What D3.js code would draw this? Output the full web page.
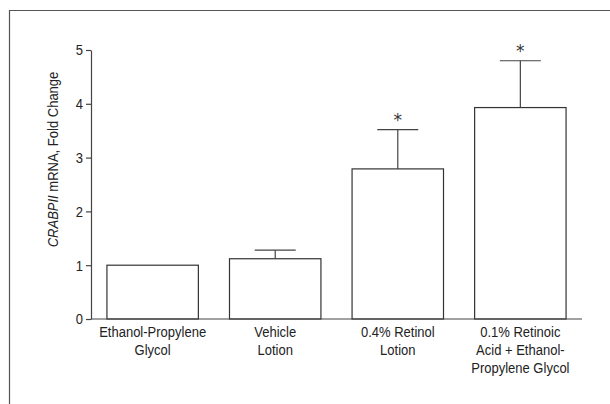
<!DOCTYPE html>
<html lang="en">
<head>
  <meta charset="UTF-8">
  <script src="https://cdnjs.cloudflare.com/ajax/libs/d3/7.8.5/d3.min.js"></script>
  <style>
    body { margin: 0; background: #fff; font-family: 'Liberation Sans', Arial, sans-serif; }
    text { fill: #222; }
  </style>
  <title>CRABPII</title>
</head>
<body>
  <div id="chart"></div>
<script>
  // treatment groups, each label split into lines
  const groups = [
    ["Ethanol-Propylene", "Glycol"],
    ["Vehicle", "Lotion"],
    ["0.4% Retinol", "Lotion"],
    ["0.1% Retinoic", "Acid + Ethanol-", "Propylene Glycol"]
  ];
  const foldChange = [1.0, 1.12, 2.79, 3.93];
  const errorUpper = [null, 1.28, 3.52, 4.80];
  const significant = [false, false, true, true];
  const yTicks = [0, 1, 2, 3, 4, 5];

  const W = 610, H = 404;
  const margin = { top: 50, right: 28, bottom: 85, left: 91 };
  const narrow = 0.84; // fake a condensed face

  const svg = d3.select("#chart").append("svg")
    .attr("width", W).attr("height", H);

  // panel frame (only top and left edges are in view)
  svg.append("path")
    .attr("d", "M9.5," + H + "V10.5H" + W)
    .attr("fill", "none").attr("stroke", "#555").attr("stroke-width", 1.2);

  const ids = groups.map((d, i) => i);
  const x = d3.scaleBand()
    .domain(ids)
    .range([margin.left, W - margin.right])
    .paddingInner(0.254)
    .paddingOuter(0.13);

  const y = d3.scaleLinear()
    .domain([0, 5])
    .range([H - margin.bottom, margin.top]);

  // bars
  svg.append("g").selectAll("rect")
    .data(foldChange)
    .join("rect")
    .attr("x", (d, i) => x(i))
    .attr("y", d => y(d))
    .attr("width", x.bandwidth())
    .attr("height", d => y(0) - y(d))
    .attr("fill", "#fff")
    .attr("stroke", "#333")
    .attr("stroke-width", 1.2);

  // error bars (upper only)
  const eb = svg.append("g").attr("stroke", "#444").attr("stroke-width", 1.2);
  errorUpper.forEach((e, i) => {
    if (e == null) return;
    const cx = x(i) + x.bandwidth() / 2;
    eb.append("line").attr("x1", cx).attr("x2", cx)
      .attr("y1", y(foldChange[i])).attr("y2", y(e));
    eb.append("line").attr("x1", cx - 20.5).attr("x2", cx + 20.5)
      .attr("y1", y(e)).attr("y2", y(e));
    if (significant[i]) {
      svg.append("text")
        .attr("x", cx).attr("y", y(e) - 4)
        .attr("text-anchor", "middle")
        .style("font-family", "'DejaVu Sans', sans-serif")
        .style("font-size", "17px")
        .style("fill", "#333")
        .text("*");
    }
  });

  // y axis
  const yAxis = svg.append("g")
    .attr("transform", "translate(" + margin.left + ",0)")
    .call(d3.axisLeft(y).tickValues(yTicks).tickFormat(d3.format("d"))
      .tickSize(5).tickSizeOuter(0).tickPadding(3));
  yAxis.selectAll("path, line").attr("stroke", "#444").attr("stroke-width", 1.2);
  yAxis.selectAll("text")
    .attr("x", -8 / narrow)
    .attr("transform", "scale(" + narrow + ",1)")
    .style("font-size", "15.5px").style("font-family", null).attr("fill", "#222");

  // x axis baseline
  svg.append("line")
    .attr("x1", margin.left).attr("x2", W - margin.right)
    .attr("y1", y(0)).attr("y2", y(0))
    .attr("stroke", "#444").attr("stroke-width", 1.2);

  // category labels
  const lab = svg.append("g").selectAll("text")
    .data(groups)
    .join("text")
    .attr("text-anchor", "middle")
    .attr("transform", (d, i) => "translate(" + (x(i) + x.bandwidth() / 2) + "," + (y(0) + 18) + ") scale(" + narrow + ",1)")
    .style("font-size", "15.5px");
  lab.selectAll("tspan")
    .data(d => d)
    .join("tspan")
    .attr("x", 0)
    .attr("dy", (d, j) => j === 0 ? 0 : 18)
    .text(d => d);

  // y label
  const yl = svg.append("text")
    .attr("transform", "translate(58," + ((y(0) + y(5)) / 2 - 25) + ") rotate(-90) scale(" + narrow + ",1)")
    .attr("text-anchor", "middle")
    .style("font-size", "15.5px");
  yl.append("tspan").style("font-style", "italic").text("CRABPII");
  yl.append("tspan").text(" mRNA, Fold Change");
</script>
</body>
</html>
